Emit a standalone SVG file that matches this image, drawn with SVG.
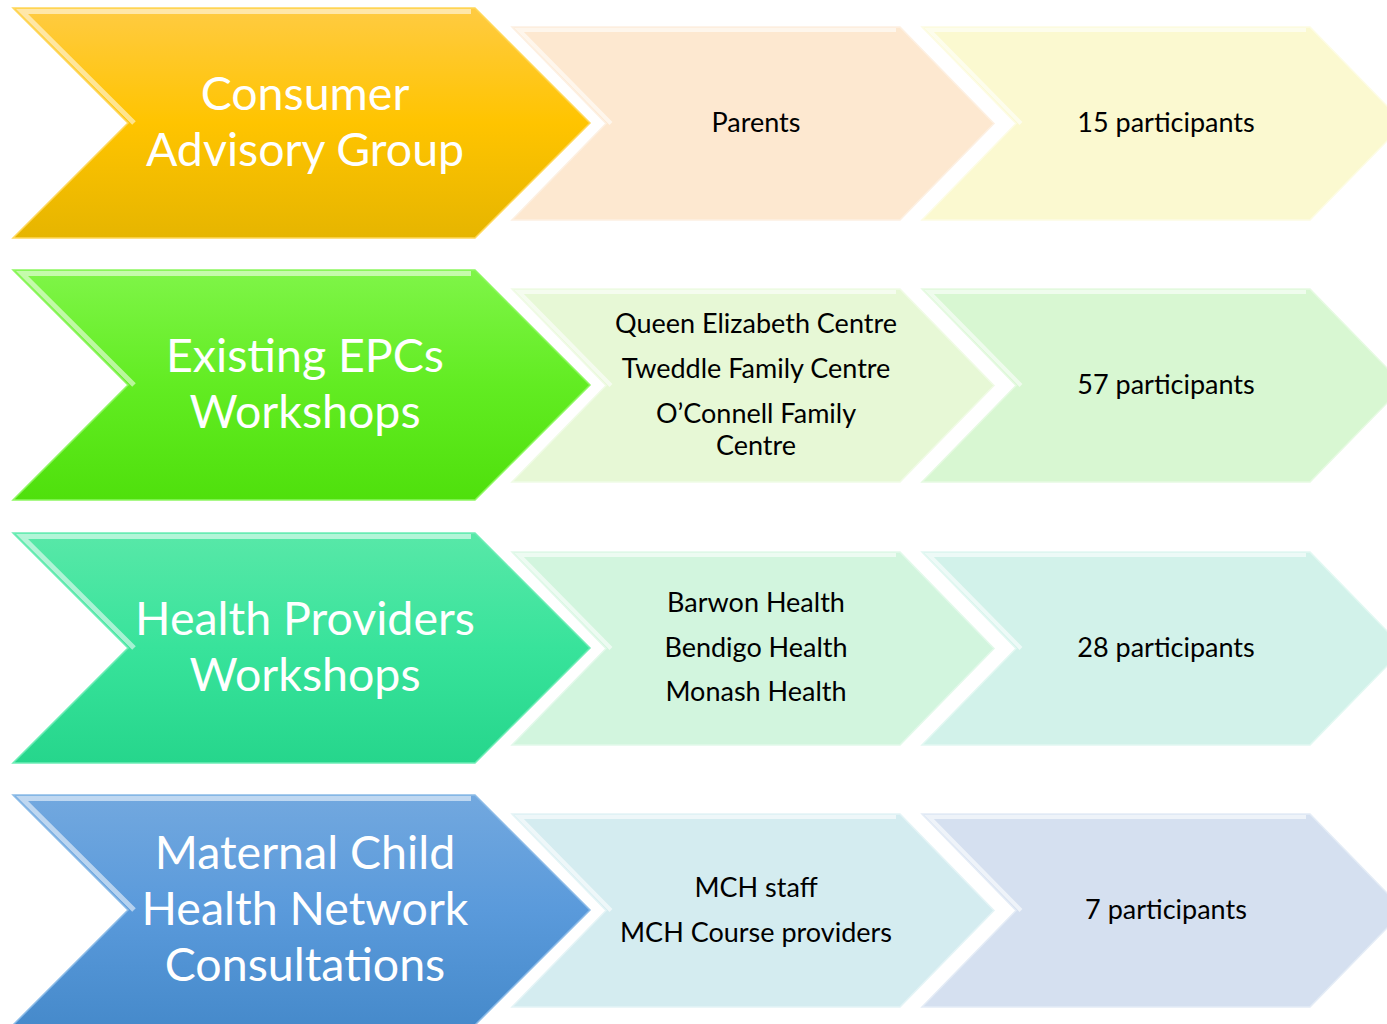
<svg xmlns="http://www.w3.org/2000/svg" width="1387" height="1024" viewBox="0 0 1387 1024">
<style>
.big{font-family:Lato,"Open Sans","Liberation Sans",sans-serif;font-size:46.5px;fill:#ffffff;text-anchor:middle}
.sm{font-family:Lato,"Open Sans","Liberation Sans",sans-serif;font-size:27px;fill:#000000;text-anchor:middle}
.hl{fill:none;stroke:#ffffff;stroke-opacity:0.55;stroke-width:5;stroke-linejoin:miter}
.hls{fill:none;stroke:#ffffff;stroke-opacity:0.6;stroke-width:4;stroke-linejoin:miter}
.edge{stroke-width:1.5}
</style>
<defs>
<linearGradient id="gY" x1="0" y1="0" x2="0" y2="1"><stop offset="0" stop-color="#FFCB42"/><stop offset="0.5" stop-color="#FFC400"/><stop offset="1" stop-color="#E6B500"/></linearGradient>
<linearGradient id="gG" x1="0" y1="0" x2="0" y2="1"><stop offset="0" stop-color="#7FF548"/><stop offset="0.5" stop-color="#62EC22"/><stop offset="1" stop-color="#4FE00C"/></linearGradient>
<linearGradient id="gT" x1="0" y1="0" x2="0" y2="1"><stop offset="0" stop-color="#58E8A8"/><stop offset="0.5" stop-color="#38E39B"/><stop offset="1" stop-color="#26D68C"/></linearGradient>
<linearGradient id="gB" x1="0" y1="0" x2="0" y2="1"><stop offset="0" stop-color="#72A8DF"/><stop offset="0.5" stop-color="#5A9ADB"/><stop offset="1" stop-color="#468ACB"/></linearGradient>
<polygon id="bigShape" points="13,0 475,0 590,115 475,230 13,230 128,115"/>
<polygon id="smA" points="512,0 900,0 994,96.5 900,193 512,193 606,96.5"/>
<polygon id="smB" points="922,0 1310,0 1404,96.5 1310,193 922,193 1016,96.5"/>
<polyline id="bigHl" points="134,115 22,3.5 471,3.5"/>
<polyline id="smAHl" points="611,96.5 519,3 896,3"/>
<polyline id="smBHl" points="1021,96.5 929,3 1306,3"/>
</defs>
<g id="connectors"></g>

<g id="row1" transform="translate(0,8)">
 <g id="consumer-advisory-group">
  <use href="#bigShape" fill="url(#gY)" stroke="#FFD85A" class="edge"/>
  <use href="#bigHl" class="hl" stroke="#FFF59A"/>
  <text class="big" x="305" y="102">Consumer</text>
  <text class="big" x="305" y="158">Advisory Group</text>
 </g>
 <g id="parents">
  <use href="#smA" transform="translate(0,19)" fill="#FDE8D0" stroke="#FDF0E2" class="edge"/>
  <use href="#smAHl" transform="translate(0,19)" class="hls"/>
  <text class="sm" x="756" y="124">Parents</text>
 </g>
 <g id="p15">
  <use href="#smB" transform="translate(0,19)" fill="#FBF9D0" stroke="#FDFCE4" class="edge"/>
  <use href="#smBHl" transform="translate(0,19)" class="hls"/>
  <text class="sm" x="1166" y="124">15 participants</text>
 </g>
</g>

<g id="row2" transform="translate(0,270)">
 <g id="existing-epcs-workshops">
  <use href="#bigShape" fill="url(#gG)" stroke="#8DF760" class="edge"/>
  <use href="#bigHl" class="hl"/>
  <text class="big" x="305" y="102">Existing EPCs</text>
  <text class="big" x="305" y="158">Workshops</text>
 </g>
 <g id="centres">
  <use href="#smA" transform="translate(0,19)" fill="#E7F8D6" stroke="#F0FBE6" class="edge"/>
  <use href="#smAHl" transform="translate(0,19)" class="hls"/>
  <text class="sm" x="756" y="63">Queen Elizabeth Centre</text>
  <text class="sm" x="756" y="108">Tweddle Family Centre</text>
  <text class="sm" x="756" y="153">O’Connell Family</text>
  <text class="sm" x="756" y="185">Centre</text>
 </g>
 <g id="p57">
  <use href="#smB" transform="translate(0,19)" fill="#D8F7D2" stroke="#E6FAE2" class="edge"/>
  <use href="#smBHl" transform="translate(0,19)" class="hls"/>
  <text class="sm" x="1166" y="124">57 participants</text>
 </g>
</g>

<g id="row3" transform="translate(0,533)">
 <g id="health-providers-workshops">
  <use href="#bigShape" fill="url(#gT)" stroke="#6DEDB6" class="edge"/>
  <use href="#bigHl" class="hl"/>
  <text class="big" x="305" y="102">Health Providers</text>
  <text class="big" x="305" y="158">Workshops</text>
 </g>
 <g id="health-services">
  <use href="#smA" transform="translate(0,19)" fill="#D2F5DE" stroke="#E2F9EA" class="edge"/>
  <use href="#smAHl" transform="translate(0,19)" class="hls"/>
  <text class="sm" x="756" y="79">Barwon Health</text>
  <text class="sm" x="756" y="124">Bendigo Health</text>
  <text class="sm" x="756" y="168">Monash Health</text>
 </g>
 <g id="p28">
  <use href="#smB" transform="translate(0,19)" fill="#D2F2EA" stroke="#E2F8F2" class="edge"/>
  <use href="#smBHl" transform="translate(0,19)" class="hls"/>
  <text class="sm" x="1166" y="124">28 participants</text>
 </g>
</g>

<g id="row4" transform="translate(0,795)">
 <g id="mch-network-consultations">
  <use href="#bigShape" fill="url(#gB)" stroke="#8CBCE8" class="edge"/>
  <use href="#bigHl" class="hl" stroke="#BDE8FA"/>
  <text class="big" x="305" y="74">Maternal Child</text>
  <text class="big" x="305" y="130">Health Network</text>
  <text class="big" x="305" y="186">Consultations</text>
 </g>
 <g id="mch-staff">
  <use href="#smA" transform="translate(0,19)" fill="#D4ECF0" stroke="#E4F4F6" class="edge"/>
  <use href="#smAHl" transform="translate(0,19)" class="hls"/>
  <text class="sm" x="756" y="102">MCH staff</text>
  <text class="sm" x="756" y="147">MCH Course providers</text>
 </g>
 <g id="p7">
  <use href="#smB" transform="translate(0,19)" fill="#D5E0F0" stroke="#E4ECF6" class="edge"/>
  <use href="#smBHl" transform="translate(0,19)" class="hls"/>
  <text class="sm" x="1166" y="124">7 participants</text>
 </g>
</g>
</svg>
